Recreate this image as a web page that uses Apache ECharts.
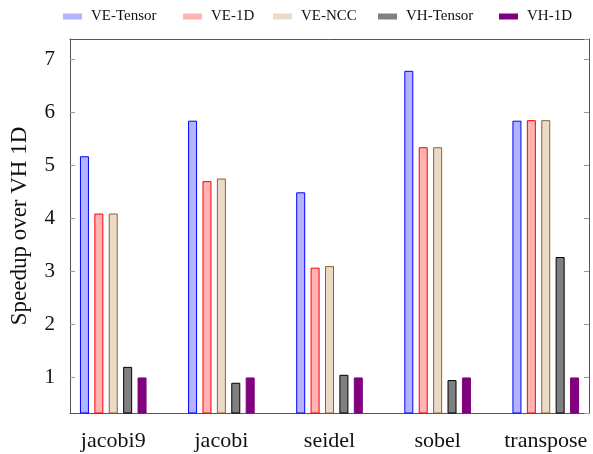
<!DOCTYPE html>
<html>
<head>
<meta charset="utf-8">
<script src="https://cdn.jsdelivr.net/npm/echarts@6/dist/echarts.min.js"></script>
<style>
  html, body { margin: 0; padding: 0; background: #fff; }
  #chart { width: 593px; height: 454px; }
</style>
</head>
<body>
<div id="chart"></div>
<script>
// Benchmarks along the x axis
const categories = ['jacobi9', 'jacobi', 'seidel', 'sobel', 'transpose'];

// Speedup over VH 1D for each variant
const veTensor = [5.17, 5.84, 4.49, 6.78, 5.84];
const ve1D     = [4.09, 4.70, 3.07, 5.34, 5.85];
const veNCC    = [4.09, 4.75, 3.10, 5.34, 5.85];
const vhTensor = [1.20, 0.90, 1.05, 0.95, 3.27];
const vh1D     = [1.00, 1.00, 1.00, 1.00, 1.00];

const seriesNames = ['VE-Tensor', 'VE-1D', 'VE-NCC', 'VH-Tensor', 'VH-1D'];
const seriesValues = [veTensor, ve1D, veNCC, vhTensor, vh1D];

const fills   = ['#b3b3ff', '#ffb3b3', '#ecd9c6', '#808080', '#800080'];
const strokes = ['#0000ff', '#ff0000', '#8c6239', '#000000', '#800080'];

const FONT = '"Liberation Serif", "DejaVu Serif", serif';
const AXIS_COLOR = '#555555';

// x extents leave a little room either side of the outer groups
const xMin = -0.4, xMax = 4.4;
const yMin = 0.33, yMax = 7.38;

const chart = echarts.init(document.getElementById('chart'), null, { renderer: 'canvas' });

const legendLefts = [58, 178, 268, 373, 494];

const boxLine = { show: true, onZero: false, lineStyle: { color: AXIS_COLOR, width: 1 } };

const option = {
  animation: false,
  backgroundColor: '#ffffff',
  textStyle: { fontFamily: FONT },
  legend: seriesNames.map((name, i) => ({
    data: [{ name: name, itemStyle: { color: fills[i], borderWidth: 0 } }],
    left: legendLefts[i],
    top: 4,
    itemWidth: 19,
    itemHeight: 6,
    itemGap: 0,
    icon: 'rect',
    selectedMode: false,
    textStyle: { fontFamily: FONT, fontSize: 15, color: '#111', padding: [0, 0, 0, 4] }
  })),
  grid: {
    left: 70, right: 4, top: 39, bottom: 41,
    containLabel: false,
    outerBoundsMode: 'none'
  },
  xAxis: [
    {
      type: 'value',
      min: xMin, max: xMax,
      splitNumber: 5,
      position: 'bottom',
      axisLine: boxLine,
      axisTick: { show: false },
      splitLine: { show: false },
      axisLabel: {
        margin: 17,
        fontFamily: FONT,
        fontSize: 22,
        color: '#111',
        showMinLabel: false,
        showMaxLabel: false,
        formatter: v => (Number.isInteger(v) && categories[v] !== undefined) ? categories[v] : ''
      }
    },
    {
      type: 'value',
      min: xMin, max: xMax,
      position: 'top',
      axisLine: boxLine,
      axisTick: { show: false },
      axisLabel: { show: false },
      splitLine: { show: false }
    }
  ],
  yAxis: [
    {
      type: 'value',
      min: yMin, max: yMax,
      splitNumber: 7,
      position: 'left',
      name: 'Speedup over VH 1D',
      nameLocation: 'middle',
      nameGap: 39,
      nameRotate: 90,
      nameTextStyle: { fontFamily: FONT, fontSize: 23, color: '#111' },
      axisLine: boxLine,
      axisTick: { show: true, inside: true, length: 5, lineStyle: { color: '#999999', width: 1 } },
      splitLine: { show: false },
      axisLabel: {
        margin: 15,
        fontFamily: FONT,
        fontSize: 21,
        color: '#111',
        showMinLabel: false,
        showMaxLabel: false,
        formatter: v => Number.isInteger(v) ? String(v) : ''
      }
    },
    {
      type: 'value',
      min: yMin, max: yMax,
      splitNumber: 7,
      position: 'right',
      axisLine: boxLine,
      axisTick: { show: true, inside: true, length: 5, lineStyle: { color: '#999999', width: 1 } },
      splitLine: { show: false },
      axisLabel: { show: false }
    }
  ],
  series: seriesNames.map((name, i) => ({
    name: name,
    type: 'bar',
    xAxisIndex: 0,
    yAxisIndex: 0,
    barWidth: 9,
    barGap: '60%',
    clip: true,
    itemStyle: { color: fills[i], borderColor: strokes[i], borderWidth: 1 },
    emphasis: { disabled: true },
    data: seriesValues[i].map((v, k) => [k, v])
  }))
};

chart.setOption(option);
</script>
</body>
</html>
